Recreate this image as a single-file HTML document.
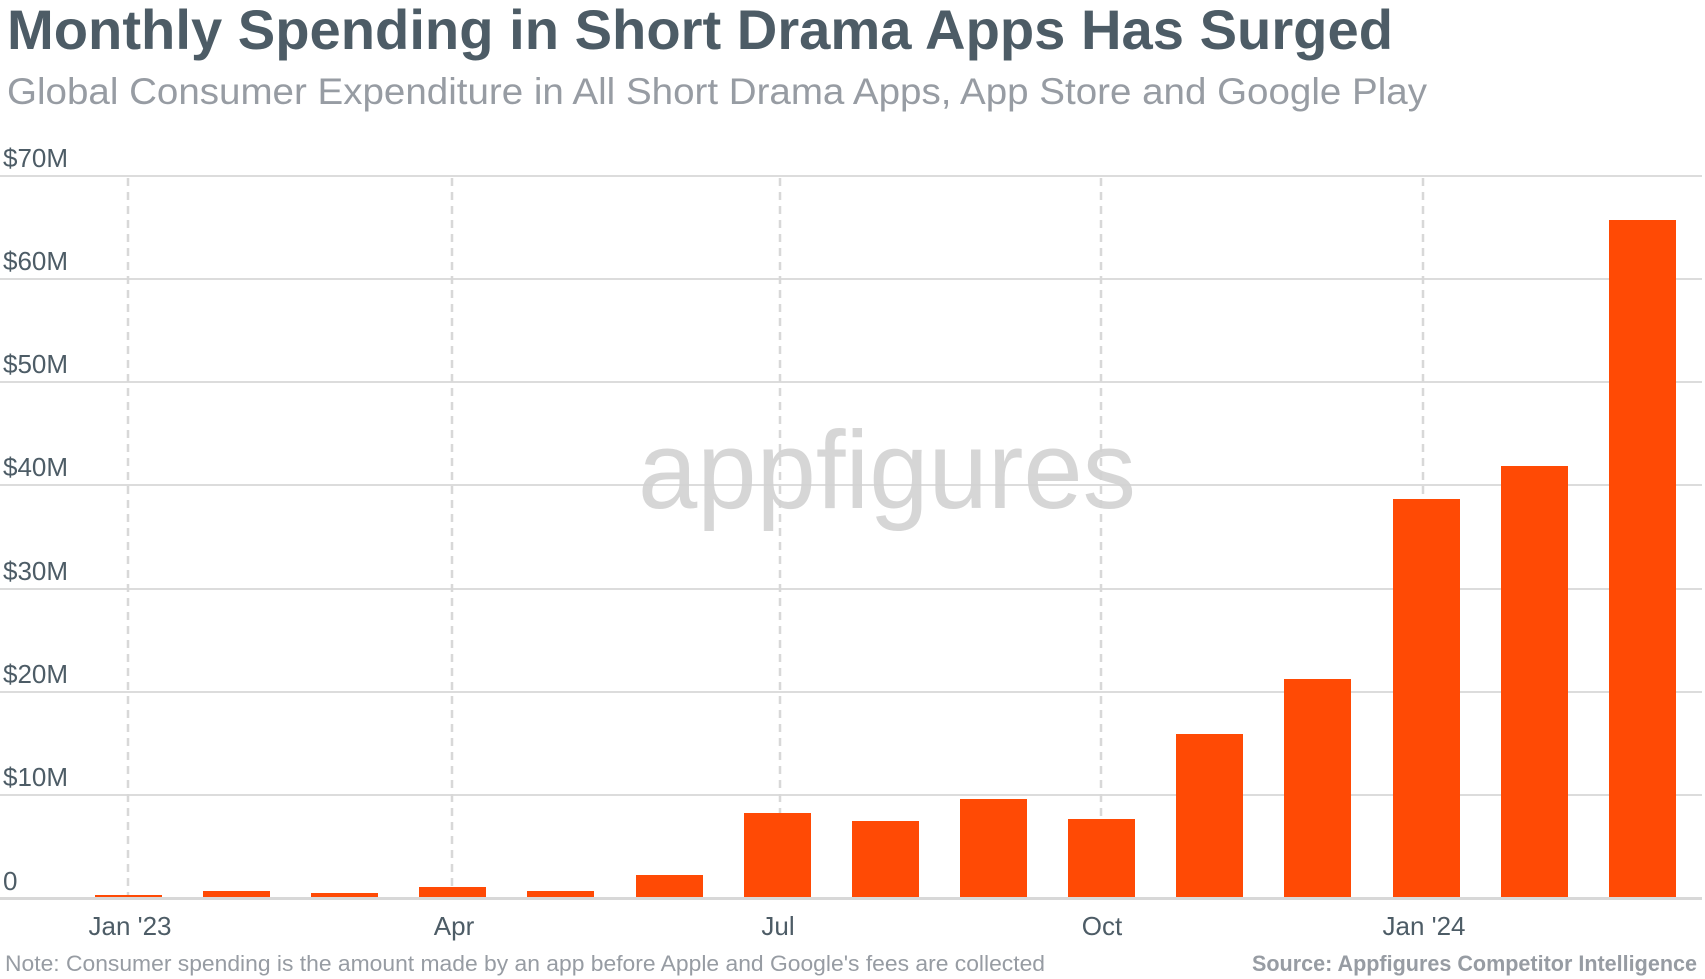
<!DOCTYPE html>
<html><head><meta charset="utf-8"><style>
html,body{margin:0;padding:0;background:#fff;}
svg{display:block;font-family:"Liberation Sans",sans-serif;}
</style></head><body>
<svg width="1705" height="979" viewBox="0 0 1705 979" xmlns="http://www.w3.org/2000/svg">
<text x="7" y="49" font-size="56" font-weight="bold" fill="#4d5c66" textLength="1386" lengthAdjust="spacingAndGlyphs">Monthly Spending in Short Drama Apps Has Surged</text>
<text x="7" y="104" font-size="37" fill="#979ca3" textLength="1420" lengthAdjust="spacingAndGlyphs">Global Consumer Expenditure in All Short Drama Apps, App Store and Google Play</text>
<g stroke="#dcdcdc" stroke-width="2">
<line x1="0" x2="1702" y1="176" y2="176"/><line x1="0" x2="1702" y1="279" y2="279"/>
<line x1="0" x2="1702" y1="382" y2="382"/><line x1="0" x2="1702" y1="485" y2="485"/>
<line x1="0" x2="1702" y1="589" y2="589"/><line x1="0" x2="1702" y1="692" y2="692"/>
<line x1="0" x2="1702" y1="795" y2="795"/>
</g>
<g stroke="#d8d8d8" stroke-width="2.5" stroke-dasharray="8,6">
<line x1="128" x2="128" y1="178" y2="898"/><line x1="452" x2="452" y1="178" y2="898"/>
<line x1="780" x2="780" y1="178" y2="898"/><line x1="1101" x2="1101" y1="178" y2="898"/>
<line x1="1423" x2="1423" y1="178" y2="898"/>
</g>
<text x="638" y="508" font-size="110" fill="#d2d2d2" fill-opacity="0.9" textLength="498" lengthAdjust="spacingAndGlyphs">appfigures</text>
<g font-size="26" fill="#4d5c66">
<text x="3" y="167">$70M</text><text x="3" y="270">$60M</text><text x="3" y="373">$50M</text>
<text x="3" y="476">$40M</text><text x="3" y="580">$30M</text><text x="3" y="683">$20M</text>
<text x="3" y="786">$10M</text><text x="3" y="890">0</text>
</g>
<g fill="#ff4a05">
<rect x="95" y="895" width="67" height="3"/>
<rect x="203" y="891" width="67" height="7"/>
<rect x="311" y="893" width="67" height="5"/>
<rect x="419" y="887" width="67" height="11"/>
<rect x="527" y="891" width="67" height="7"/>
<rect x="636" y="875" width="67" height="23"/>
<rect x="744" y="813" width="67" height="85"/>
<rect x="852" y="821" width="67" height="77"/>
<rect x="960" y="799" width="67" height="99"/>
<rect x="1068" y="819" width="67" height="79"/>
<rect x="1176" y="734" width="67" height="164"/>
<rect x="1284" y="679" width="67" height="219"/>
<rect x="1393" y="499" width="67" height="399"/>
<rect x="1501" y="466" width="67" height="432"/>
<rect x="1609" y="220" width="67" height="678"/>
</g>
<line x1="0" x2="1702" y1="898.5" y2="898.5" stroke="#d8d8d8" stroke-width="3"/>
<g font-size="26" fill="#4d5c66" text-anchor="middle">
<text x="130" y="935">Jan '23</text><text x="454" y="935">Apr</text><text x="778" y="935">Jul</text>
<text x="1102" y="935">Oct</text><text x="1424" y="935">Jan '24</text>
</g>
<text x="5" y="971" font-size="22" fill="#979ca3" textLength="1040" lengthAdjust="spacingAndGlyphs">Note: Consumer spending is the amount made by an app before Apple and Google's fees are collected</text>
<text x="1697" y="971" font-size="22" font-weight="bold" fill="#979ca3" text-anchor="end" textLength="445" lengthAdjust="spacingAndGlyphs">Source: Appfigures Competitor Intelligence</text>
</svg>
</body></html>
